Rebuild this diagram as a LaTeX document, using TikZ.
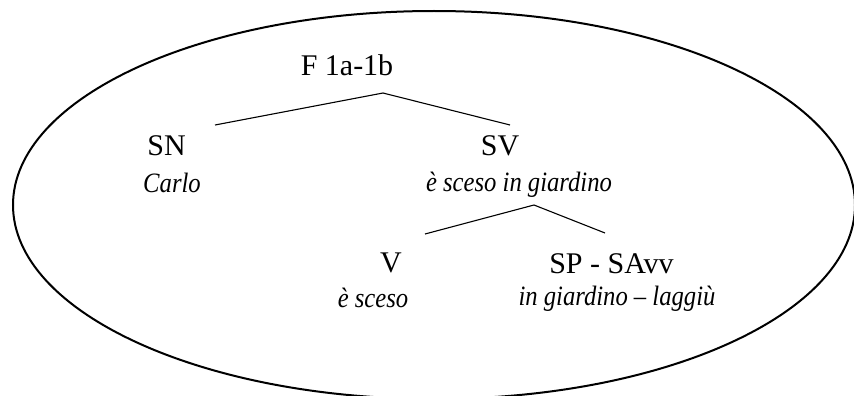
\documentclass[tikz,border=0pt]{standalone}
\usepackage{fontspec}
\setmainfont{Liberation Serif}[ItalicFeatures={FakeStretch=0.88}]
\begin{document}
\begin{tikzpicture}[x=1pt,y=-1pt,
  cat/.style={anchor=base,inner sep=0pt,font=\fontsize{30}{36}\selectfont},
  wrd/.style={anchor=base,inner sep=0pt,font=\fontsize{28}{34}\selectfont\itshape},
  branch/.style={line width=1.1pt},
  oval/.style={line width=2pt}]
\useasboundingbox (0,0) rectangle (854,396);
\clip (0,0) rectangle (854,396);
\draw[oval] (434,205) ellipse [x radius=421, y radius=194];
% nodes
\node[cat] (F) at (347,76) {F 1a-1b};
\node[cat] (SN) at (166.5,155) {SN};
\node[wrd] (Carlo) at (172,192) {Carlo};
\node[cat] (SV) at (500,155) {SV};
\node[wrd] (SVw) at (519,191) {è sceso in giardino};
\node[cat] (V) at (391,272) {V};
\node[wrd] (Vw) at (373,307) {è sceso};
\node[cat] (SP) at (611.5,273) {SP - SAvv};
\node[wrd] (SPw) at (617,305) {in giardino – laggiù};
% connector points
\coordinate (Fa) at (383,93);
\coordinate (SNt) at (215,125);
\coordinate (SVt) at (510,125);
\coordinate (SVa) at (534,205);
\coordinate (Vt) at (425,234);
\coordinate (SPt) at (605,233);
\draw[branch] (SNt) -- (Fa) -- (SVt);
\draw[branch] (Vt) -- (SVa) -- (SPt);
\end{tikzpicture}
\end{document}
